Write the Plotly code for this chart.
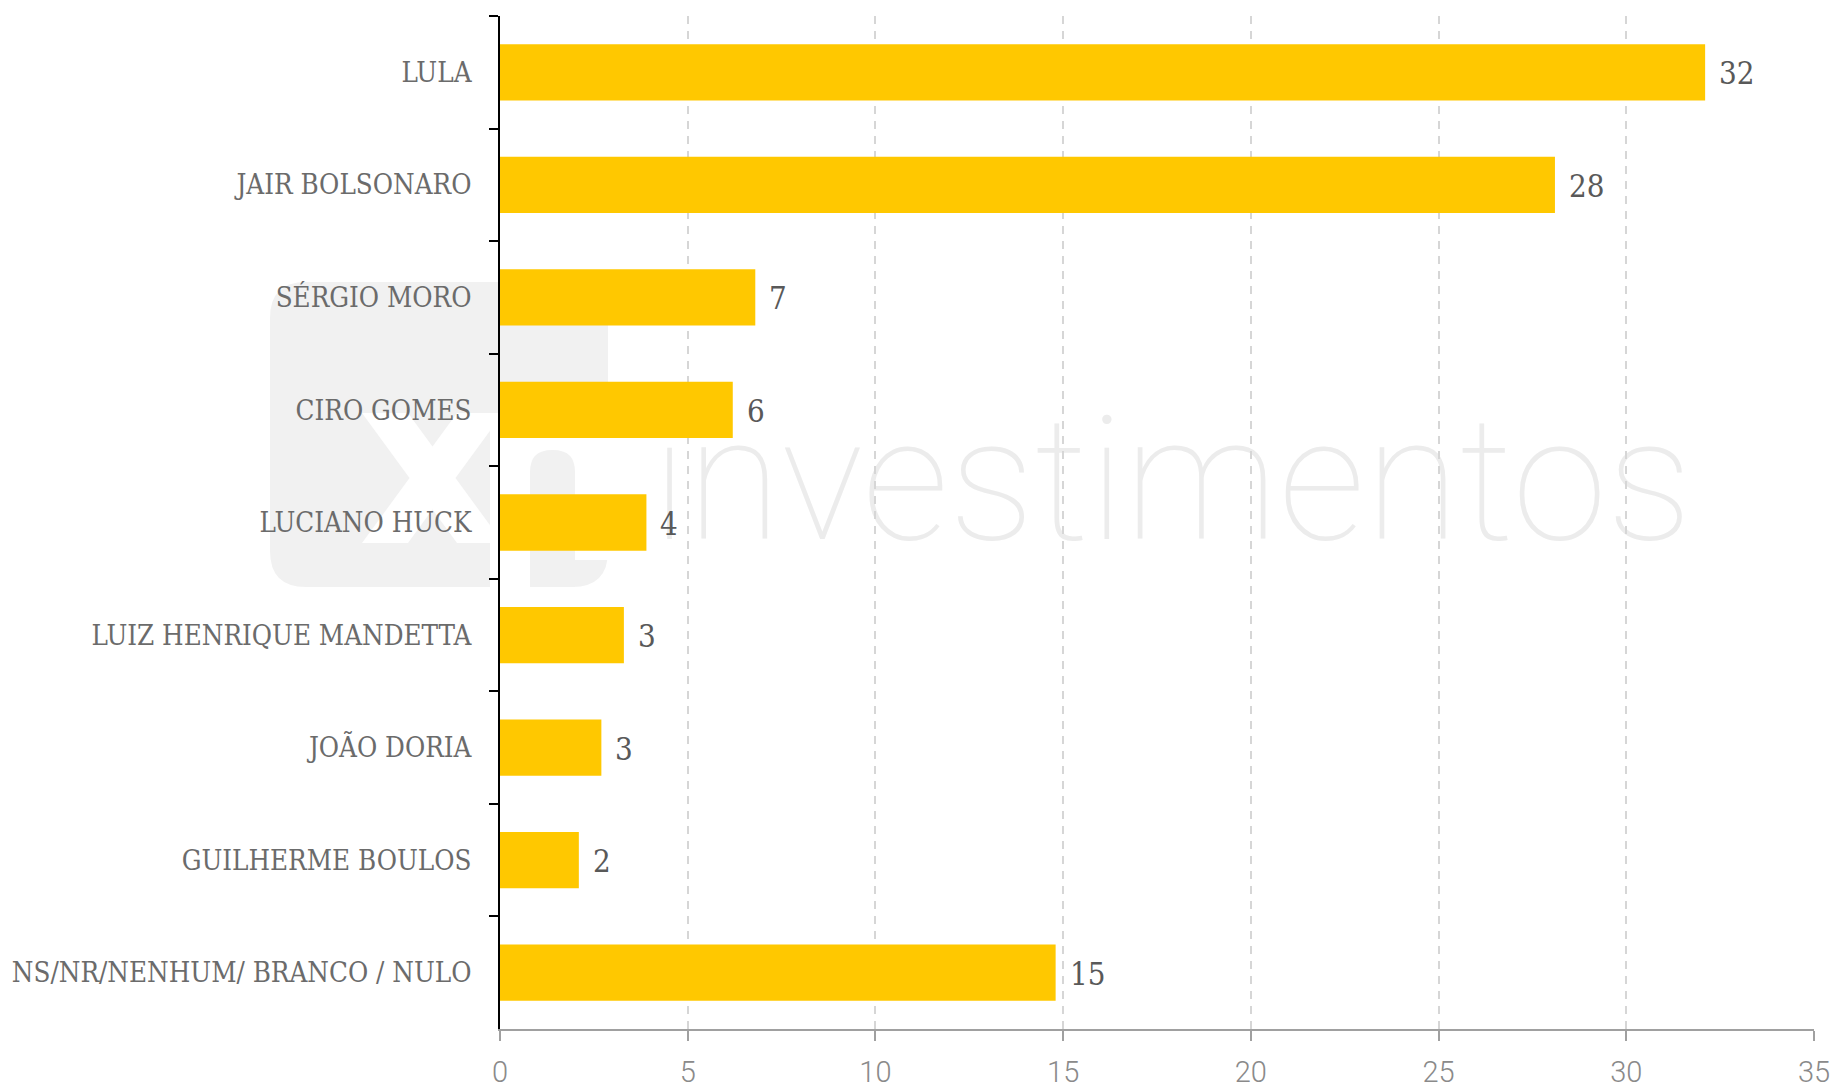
import plotly.graph_objects as go

categories = ["LULA", "JAIR BOLSONARO", "SÉRGIO MORO", "CIRO GOMES", "LUCIANO HUCK",
              "LUIZ HENRIQUE MANDETTA", "JOÃO DORIA", "GUILHERME BOULOS",
              "NS/NR/NENHUM/ BRANCO / NULO"]
values = [32.1, 28.1, 6.8, 6.2, 3.9, 3.3, 2.7, 2.1, 14.8]
value_labels = ["32", "28", "7", "6", "4", "3", "3", "2", "15"]
x_ticks = [0, 5, 10, 15, 20, 25, 30, 35]

W, H = 1837, 1089
ML, MR, MT, MB = 500, 23, 16, 60
PW, PH = W - ML - MR, H - MT - MB

def xp(px):
    return (px - ML) / PW

def yp(py):
    return (H - MB - py) / PH

BAR = "#FFC800"
SERIF = "DejaVu Serif Condensed, DejaVu Serif, serif"

fig = go.Figure()
fig.add_trace(go.Bar(
    x=values, y=categories, orientation="h",
    marker=dict(color=BAR, line=dict(width=0)),
    hoverinfo="skip",
))

for c, v, t in zip(categories, values, value_labels):
    fig.add_annotation(x=v, y=c, text=t, showarrow=False, xanchor="left",
                       xshift=12, yshift=-1,
                       font=dict(family=SERIF, size=31, color="#595959"))

# watermark (XP logo + "investimentos")
GREY = "#f1f1f1"
def rrect(x0, y0, x1, y1, r):
    X0, X1 = xp(x0), xp(x1)
    Y0, Y1 = yp(y0), yp(y1)
    rx, ry = r / PW, r / PH
    return (f"M {X0+rx},{Y0} L {X1-rx},{Y0} Q {X1},{Y0} {X1},{Y0-ry} "
            f"L {X1},{Y1+ry} Q {X1},{Y1} {X1-rx},{Y1} L {X0+rx},{Y1} "
            f"Q {X0},{Y1} {X0},{Y1+ry} L {X0},{Y0-ry} Q {X0},{Y0} {X0+rx},{Y0} Z")

def poly(pts):
    return "M " + " L ".join(f"{xp(a)},{yp(b)}" for a, b in pts) + " Z"

def sh(path, color):
    return dict(type="path", path=path, xref="paper", yref="paper",
                fillcolor=color, line=dict(width=0), layer="below")

shapes = [
    sh(rrect(270, 282, 608, 587, 36), GREY),
    sh(poly([(490, 413), (608, 413), (608, 560), (490, 560)]), "white"),
    sh(poly([(490, 560), (530, 560), (530, 587), (490, 587)]), "white"),
    sh(poly([(362, 413), (408, 413), (503, 543), (457, 543)]), "white"),
    sh(poly([(457, 413), (503, 413), (408, 543), (362, 543)]), "white"),
    sh(rrect(530, 450, 575, 640, 22), GREY),
    sh(poly([(525, 587), (620, 587), (620, 650), (525, 650)]), "white"),
]
shapes.append(dict(type="rect", x0=xp(652), x1=xp(1692), y0=yp(568), y1=yp(368),
                   xref="paper", yref="paper", fillcolor="rgba(0,0,0,0)",
                   line=dict(width=0), layer="below",
                   label=dict(text="investimentos", textposition="middle center",
                              font=dict(family="Roboto", size=172, color="#ececec",
                                        weight=100))))

fig.update_layout(
    width=W, height=H,
    margin=dict(l=ML, r=MR, t=MT, b=MB, pad=0, autoexpand=False),
    paper_bgcolor="white", plot_bgcolor="rgba(0,0,0,0)",
    bargap=0.5, showlegend=False,
    shapes=shapes,
    xaxis=dict(range=[0, 35], tickvals=x_ticks, ticktext=[str(t) for t in x_ticks],
               automargin=False,
               showgrid=True, gridcolor="#d6d6d6", gridwidth=2, griddash="8px,7px",
               zeroline=False, showline=True, linecolor="#a0a0a0", linewidth=1.5,
               ticks="outside", ticklen=10, tickcolor="#a0a0a0", tickwidth=1.5,
               tickfont=dict(family="Liberation Sans Narrow, Roboto, sans-serif",
                             size=29, color="#8a8a8a", weight=300),
               ticklabelstandoff=6, fixedrange=True),
    yaxis=dict(autorange="reversed", showgrid=False, zeroline=False,
               automargin=False,
               showline=True, linecolor="#000000", linewidth=2,
               ticks="outside", tickson="boundaries", ticklen=9,
               tickcolor="#000000", tickwidth=2,
               tickfont=dict(family=SERIF, size=27.5, color="#6b6b6b"),
               ticklabelstandoff=21, fixedrange=True),
)

fig.write_html("out.html", config={"displayModeBar": False},
               post_script="document.body.style.margin='0';")
